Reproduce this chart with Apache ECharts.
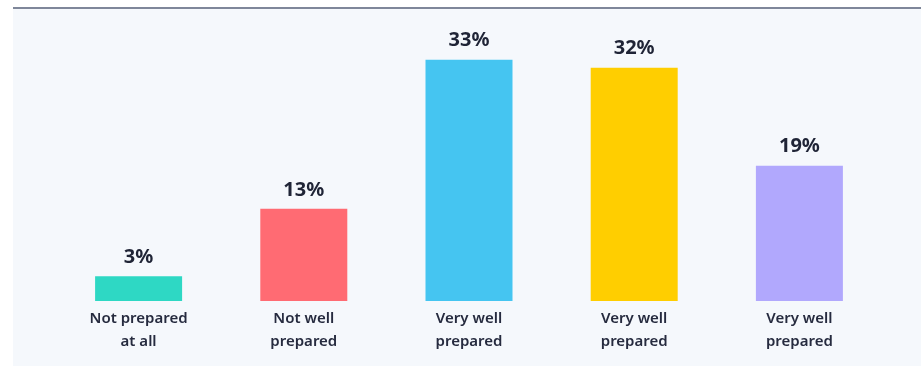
<!DOCTYPE html>
<html>
<head>
<meta charset="utf-8">
<script src="https://cdn.jsdelivr.net/npm/echarts@6/dist/echarts.min.js"></script>
<style>
html,body{margin:0;padding:0;background:#ffffff;}
#chart{width:921px;height:366px;}
</style>
</head>
<body>
<div id="chart"></div>
<script>
const categories = ['Not prepared\nat all', 'Not well\nprepared', 'Very well\nprepared', 'Very well\nprepared', 'Very well\nprepared'];
const values = [3.4, 12.6, 33.0, 31.9, 18.5];
const barColors = ['#2ed8c4', '#ff6b73', '#45c5f1', '#ffce00', '#b1a8fd'];

const chart = echarts.init(document.getElementById('chart'), null, {renderer: 'canvas'});
chart.setOption({
  animation: false,
  backgroundColor: '#ffffff',
  graphic: [
    {type: 'rect', z: -10, silent: true, shape: {x: 13, y: 7, width: 908, height: 359}, style: {fill: '#f5f8fc'}},
    {type: 'rect', z: -9, silent: true, shape: {x: 13, y: 7, width: 908, height: 2}, style: {fill: '#7f879a'}}
  ],
  grid: {left: 56, right: 39, top: 45, bottom: 65, containLabel: false},
  xAxis: {
    type: 'category',
    data: categories,
    axisLine: {show: false},
    axisTick: {show: false},
    axisLabel: {
      interval: 0,
      margin: 6,
      color: '#262b3f',
      fontFamily: 'Noto Sans',
      fontSize: 15,
      fontWeight: 600,
      lineHeight: 23
    }
  },
  yAxis: {
    type: 'value',
    min: 0,
    max: 35,
    show: false,
    splitLine: {show: false}
  },
  series: [{
    type: 'bar',
    barWidth: 87,
    data: values.map((v, i) => ({value: v, itemStyle: {color: barColors[i]}})),
    label: {
      show: true,
      position: 'top',
      distance: 9,
      formatter: p => Math.round(p.value) + '%',
      color: '#1f2436',
      fontFamily: 'Noto Sans',
      fontSize: 20,
      fontWeight: 'bold',
      lineHeight: 20
    }
  }]
});
</script>
</body>
</html>
